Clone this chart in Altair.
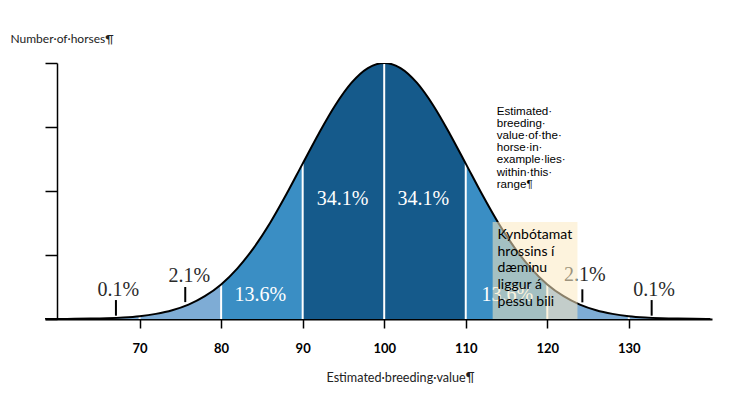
import altair as alt
import pandas as pd

# ---- data (heights as % of the peak) ----
x_vals = list(range(58, 141, 2))
heights = [0.01, 0.03, 0.07, 0.15, 0.31, 0.6, 1.1, 2.0, 3.4, 5.6, 8.9, 13.5, 19.8, 27.8,
           37.5, 48.7, 60.7, 72.6, 83.5, 92.3, 98.0, 100.0, 98.0, 92.3, 83.5, 72.6, 60.7,
           48.7, 37.5, 27.8, 19.8, 13.5, 8.9, 5.6, 3.4, 2.0, 1.1, 0.6, 0.31, 0.15, 0.07, 0.03]

band_edges = [58, 70, 80, 90, 110, 120, 130, 140]
band_shades = ["light", "light", "mid", "dark", "mid", "light", "light"]

divider_x = [70, 80, 90, 100, 110, 120, 130]

pct_text = ["0.1%", "2.1%", "13.6%", "34.1%", "34.1%", "13.6%", "2.1%", "0.1%"]
pct_x = [67.4, 76.1, 84.8, 94.9, 104.8, 115.1, 124.6, 133.1]
pct_y = [11.3, 16.8, 9.4, 46.9, 46.9, 9.4, 17.2, 11.3]
pct_tone = ["dark", "dark", "light", "light", "light", "light", "dark", "dark"]

tick_x = [67.1, 75.6, 124.3, 132.8]
tick_lo = [1.3, 6.6, 6.5, 1.3]
tick_hi = [7.4, 12.5, 11.6, 7.4]

box_x = [113.3]
box_x2 = [123.7]
box_y = [0]
box_y2 = [37.9]

note_text = ["Estimated·\nbreeding·\nvalue·of·the·\nhorse·in·\nexample·lies·\nwithin·this·\nrange¶",
             "Kynbótamat\nhrossins í\ndæminu\nliggur á\nþessu bili"]
note_x = [113.8, 113.9]
note_y = [83.2, 35.6]

x_ticks = [70, 80, 90, 100, 110, 120, 130]
y_ticks = [0, 25, 50, 75, 100]

shade_colors = {"light": "#7eacd5", "mid": "#3a8ec4", "dark": "#155a8b"}

# ---- tables ----
curve = pd.DataFrame({"x": x_vals, "h": heights})

segments = []
for i in range(len(band_edges) - 1):
    lo, hi = band_edges[i], band_edges[i + 1]
    pts = [(xv, hv) for xv, hv in zip(x_vals, heights) if lo <= xv <= hi]
    segments.append((band_shades[i], pd.DataFrame({"x": [p[0] for p in pts],
                                                   "h": [p[1] for p in pts]})))

hmap = dict(zip(x_vals, heights))
dividers = pd.DataFrame({"x": divider_x, "h": [hmap[v] for v in divider_x]})
pcts = pd.DataFrame({"t": pct_text, "x": pct_x, "y": pct_y, "tone": pct_tone})
ticks = pd.DataFrame({"x": tick_x, "lo": tick_lo, "hi": tick_hi})
box = pd.DataFrame({"x": box_x, "x2": box_x2, "y": box_y, "y2": box_y2})
notes = pd.DataFrame({"t": note_text, "x": note_x, "y": note_y})

xs = alt.Scale(domain=[58.4, 140.2], nice=False, zero=False)
ys = alt.Scale(domain=[0, 100], nice=False)

x_axis = alt.Axis(values=x_ticks, title="Estimated·breeding·value¶", labelFont="Lato",
                  labelFontWeight="bold", labelFontSize=13, labelColor="black",
                  tickColor="black", tickSize=9, tickWidth=1.5, domainColor="black",
                  domainWidth=2, labelPadding=14, titleFont="Lato", titleFontSize=12.6,
                  titleFontWeight="normal", titleColor="#222", titleY=58, titleX=355,
                  titleAlign="center", titleBaseline="middle")
y_axis = alt.Axis(values=y_ticks, labels=False, tickColor="black", tickSize=12,
                  tickWidth=1.5, domainColor="black", domainWidth=1.5, offset=-12,
                  title="Number·of·horses¶", titleAngle=0, titleAlign="left",
                  titleBaseline="middle", titleX=-47, titleY=-25, titleFont="Lato",
                  titleFontSize=12, titleFontWeight="normal", titleColor="#222")

layers = []
for k, (shade, seg) in enumerate(segments):
    if k == 0:
        enc = dict(x=alt.X("x:Q", scale=xs, axis=x_axis),
                   y=alt.Y("h:Q", scale=ys, axis=y_axis, stack=None))
    else:
        enc = dict(x=alt.X("x:Q", scale=xs),
                   y=alt.Y("h:Q", scale=ys, stack=None))
    layers.append(alt.Chart(seg).mark_area(interpolate="monotone", clip=True,
                                           color=shade_colors[shade]).encode(**enc))

divs = alt.Chart(dividers).mark_rule(color="white", strokeWidth=2).encode(
    x=alt.X("x:Q", scale=xs), y=alt.Y("h:Q", scale=ys), y2=alt.datum(0))

line = alt.Chart(curve).mark_line(color="black", strokeWidth=2, interpolate="monotone",
                                  clip=True).encode(
    x=alt.X("x:Q", scale=xs), y=alt.Y("h:Q", scale=ys))

labels_dark = alt.Chart(pcts[pcts.tone == "dark"]).mark_text(
    font="Liberation Serif", fontSize=20, baseline="middle", color="#2a2a2a").encode(
    x=alt.X("x:Q", scale=xs), y=alt.Y("y:Q", scale=ys), text="t:N")
labels_light = alt.Chart(pcts[pcts.tone == "light"]).mark_text(
    font="Liberation Serif", fontSize=20, baseline="middle", color="white").encode(
    x=alt.X("x:Q", scale=xs), y=alt.Y("y:Q", scale=ys), text="t:N")

tks = alt.Chart(ticks).mark_rule(color="black", strokeWidth=2).encode(
    x=alt.X("x:Q", scale=xs), y=alt.Y("lo:Q", scale=ys), y2="hi:Q")

overlay = alt.Chart(box).mark_rect(color="#fbe9c1", opacity=0.55).encode(
    x=alt.X("x:Q", scale=xs), x2="x2:Q", y=alt.Y("y:Q", scale=ys), y2="y2:Q")

note1 = alt.Chart(notes.iloc[[0]]).mark_text(align="left", baseline="top", lineBreak="\n",
                                             font="Liberation Sans", fontSize=11.6,
                                             lineHeight=12.1, color="black").encode(
    x=alt.X("x:Q", scale=xs), y=alt.Y("y:Q", scale=ys), text="t:N")

note2 = alt.Chart(notes.iloc[[1]]).mark_text(align="left", baseline="top", lineBreak="\n",
                                             font="Lato", fontSize=14,
                                             lineHeight=16.8, color="black").encode(
    x=alt.X("x:Q", scale=xs), y=alt.Y("y:Q", scale=ys), text="t:N")

chart = alt.layer(*layers, divs, line, labels_dark, labels_light, tks, overlay,
                  note1, note2).properties(
    width=667, height=256,
    autosize=alt.AutoSizeParams(type="none"),
    padding={"left": 37, "top": 55, "right": 20, "bottom": 72},
).configure_axis(grid=False).configure_view(stroke=None)

chart.save("out.html", embed_options={"renderer": "svg", "actions": False})
